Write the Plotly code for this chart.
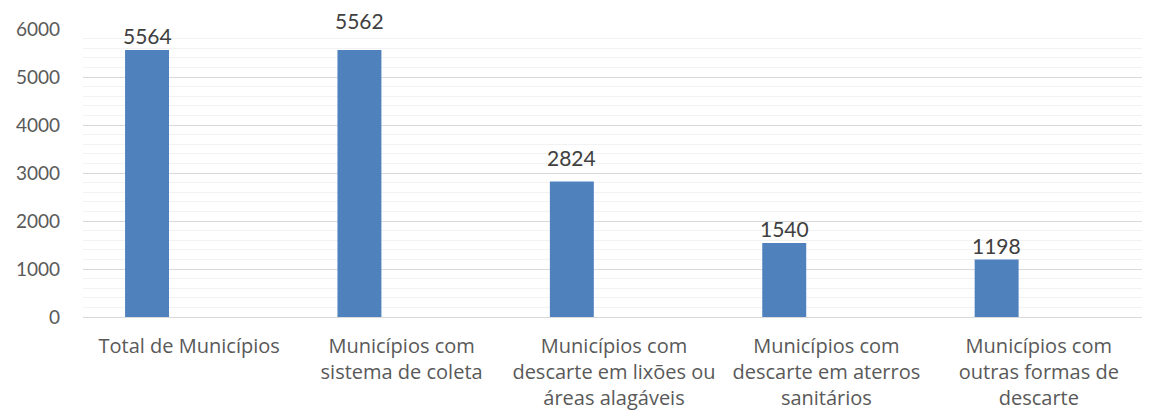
import plotly.graph_objects as go

categories = [
    "Total de Municípios",
    "Municípios com<br>sistema de coleta",
    "Municípios com<br>descarte em lixões ou<br>áreas alagáveis",
    "Municípios com<br>descarte em aterros<br>sanitários",
    "Municípios com<br>outras formas de<br>descarte",
]
values = [5564, 5562, 2824, 1540, 1198]
label_shift = [0, 15, 9, 0, 0]  # extra upward shift of data labels (px)

NUMFONT = "Lato, 'Open Sans', sans-serif"
CATFONT = "'Open Sans', Lato, sans-serif"
BAR = "#4F81BD"

fig = go.Figure()
fig.add_trace(go.Bar(
    x=categories, y=values,
    marker=dict(color=BAR, line=dict(width=0)),
    width=0.207, offset=-0.302,
    hoverinfo="x+y",
))

bar_center = -0.302 + 0.207 / 2
for i, (c, v) in enumerate(zip(categories, values)):
    fig.add_annotation(
        x=i + bar_center, y=v, xref="x", yref="y",
        text=str(v), showarrow=False, yanchor="bottom",
        yshift=0 + label_shift[i],
        font=dict(family=NUMFONT, size=21, color="#404040"),
    )

fig.update_layout(
    width=1142, height=411,
    margin=dict(l=75, r=5, t=21, b=102, autoexpand=False),
    paper_bgcolor="white", plot_bgcolor="white",
    showlegend=False,
    font=dict(family=NUMFONT, size=18, color="#595959"),
    xaxis=dict(
        type="category", showgrid=False, ticks="", automargin=False,
        showline=True, linecolor="#D9D9D9", linewidth=1,
        tickfont=dict(family=CATFONT, size=20, color="#595959"),
        ticklabelstandoff=11,
        range=[-0.5, 4.5],
    ),
    yaxis=dict(
        range=[0, 6000], dtick=1000, tick0=0, automargin=False,
        showgrid=True, gridcolor="#D9D9D9", gridwidth=1,
        minor=dict(dtick=200, showgrid=True, gridcolor="#F2F2F2", gridwidth=1),
        zeroline=False, ticks="", showline=False,
        tickfont=dict(family=NUMFONT, size=19, color="#595959"),
        ticklabelstandoff=22,
    ),
)

fig.write_html("out.html")
